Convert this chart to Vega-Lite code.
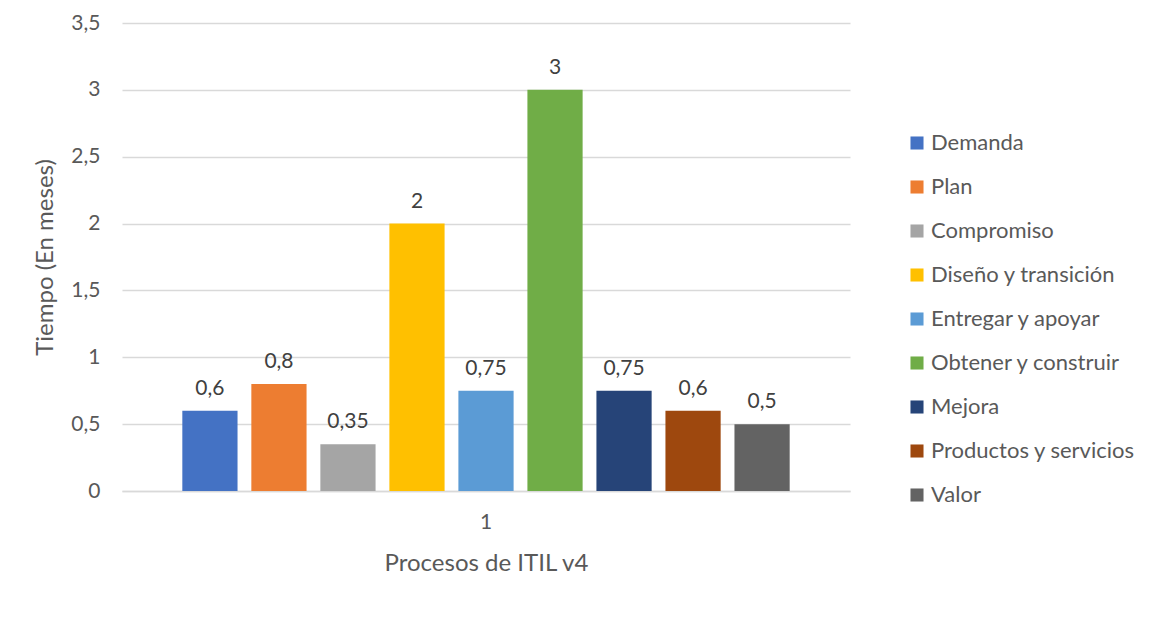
{
  "$schema": "https://vega.github.io/schema/vega-lite/v6.json",
  "width": 728,
  "height": 468,
  "autosize": {"type": "none"},
  "padding": {"left": 122, "top": 23, "right": 304, "bottom": 144},
  "config": {
    "locale": {"number": {"decimal": ",", "thousands": ".", "grouping": [3], "currency": ["", " €"]}},
    "font": "Lato",
    "view": {"stroke": null},
    "axis": {"labelColor": "#595959", "titleColor": "#595959", "labelFont": "Lato", "titleFont": "Lato", "titleFontWeight": "normal"},
    "legend": {"labelColor": "#595959", "labelFont": "Lato"}
  },
  "data": {
    "values": [
      {"grupo": "1", "proceso": "Demanda", "tiempo": 0.6},
      {"grupo": "1", "proceso": "Plan", "tiempo": 0.8},
      {"grupo": "1", "proceso": "Compromiso", "tiempo": 0.35},
      {"grupo": "1", "proceso": "Diseño y transición", "tiempo": 2},
      {"grupo": "1", "proceso": "Entregar y apoyar", "tiempo": 0.75},
      {"grupo": "1", "proceso": "Obtener y construir", "tiempo": 3},
      {"grupo": "1", "proceso": "Mejora", "tiempo": 0.75},
      {"grupo": "1", "proceso": "Productos y servicios", "tiempo": 0.6},
      {"grupo": "1", "proceso": "Valor", "tiempo": 0.5}
    ]
  },
  "encoding": {
    "x": {
      "field": "grupo", "type": "nominal",
      "scale": {"paddingInner": 0, "paddingOuter": 0.086},
      "axis": {"title": "Procesos de ITIL v4", "titleFontSize": 24, "titlePadding": 19, "labelFontSize": 21, "labelAngle": 0, "labelPadding": 20, "ticks": false, "domain": true, "domainColor": "#d9d9d9", "domainWidth": 1.5}
    },
    "xOffset": {
      "field": "proceso", "type": "nominal",
      "sort": ["Demanda", "Plan", "Compromiso", "Diseño y transición", "Entregar y apoyar", "Obtener y construir", "Mejora", "Productos y servicios", "Valor"],
      "scale": {"paddingInner": 0.2, "paddingOuter": 0.1}
    },
    "y": {
      "field": "tiempo", "type": "quantitative",
      "scale": {"domain": [0, 3.5], "nice": false},
      "axis": {"title": "Tiempo (En meses)", "titleFontSize": 24, "titlePadding": 13, "labelFontSize": 21, "values": [0, 0.5, 1, 1.5, 2, 2.5, 3, 3.5], "format": "~r", "ticks": false, "domain": false, "labelPadding": 22, "grid": true, "gridColor": "#d9d9d9", "gridWidth": 1.5}
    }
  },
  "layer": [
    {
      "mark": {"type": "bar"},
      "encoding": {
        "color": {
          "field": "proceso", "type": "nominal",
          "sort": ["Demanda", "Plan", "Compromiso", "Diseño y transición", "Entregar y apoyar", "Obtener y construir", "Mejora", "Productos y servicios", "Valor"],
          "scale": {"range": ["#4472C4", "#ED7D31", "#A5A5A5", "#FFC000", "#5B9BD5", "#70AD47", "#264478", "#9E480E", "#636363"]},
          "legend": {"title": null, "orient": "none", "legendX": 784, "legendY": 109, "symbolType": "square", "symbolSize": 170, "symbolStrokeWidth": 0, "labelFontSize": 22, "labelOffset": 3, "rowPadding": 22, "labelLimit": 300}
        }
      }
    },
    {
      "mark": {"type": "text", "baseline": "bottom", "dy": -12, "fontSize": 21, "color": "#404040", "font": "Lato"},
      "encoding": {
        "text": {"field": "tiempo", "type": "quantitative", "format": "~r"}
      }
    }
  ]
}
